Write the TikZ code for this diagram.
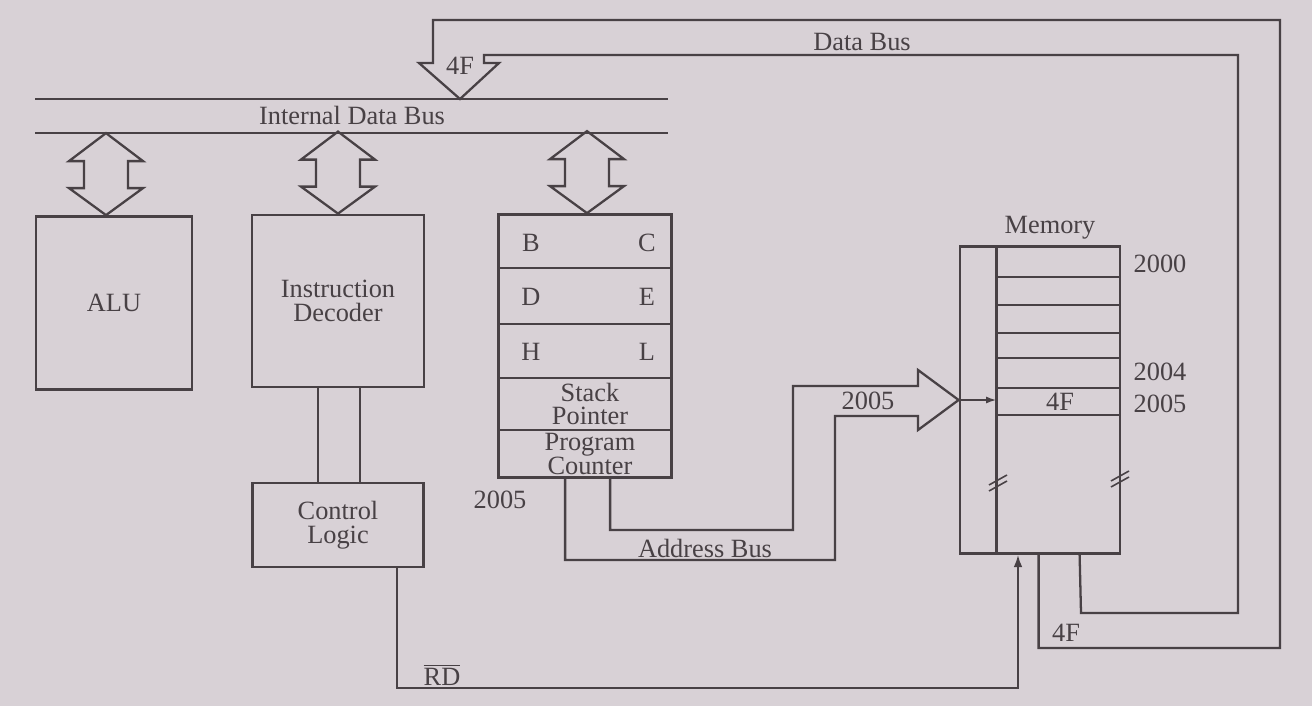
\documentclass[tikz,border=0pt]{standalone}
\usepackage{fontspec}
\setmainfont{Liberation Serif}
\usetikzlibrary{arrows.meta, positioning, calc}
\definecolor{paper}{RGB}{216,209,214}
\definecolor{ink}{RGB}{72,65,69}

\begin{document}
\begin{tikzpicture}[
  x=0.02cm, y=-0.02cm,
  every node/.style={text=ink, align=center, font=\fontsize{15}{13.6}\selectfont},
  block/.style={rectangle, draw=ink, line width=1.6pt, inner sep=0pt},
  bus/.style={draw=ink, line width=1.3pt, line join=miter},
  wire/.style={draw=ink, line width=1.1pt}
]
  \fill[paper] (0,0) rectangle (1312,706);
  \useasboundingbox (0,0) rectangle (1312,706);

  \node[block, minimum width=3.12cm, minimum height=3.46cm] (alu) at (114,303) {ALU};
  \node[block, minimum width=3.44cm, minimum height=3.44cm] (decoder) at (338,301) {Instruction\\Decoder};
  \node[block, minimum width=3.42cm, minimum height=1.68cm] (control) at (338,525) {Control\\Logic};
  \node[block, minimum width=3.46cm, minimum height=5.26cm] (regs) at (585,346) {};
  \node[block, minimum width=3.2cm, minimum height=6.14cm] (memory) at (1040,400) {};

  \draw[bus] (35,99) -- (668,99);
  \draw[bus] (35,133) -- (668,133);
  \node (idb) at (352,115) {Internal Data Bus};

  \foreach \n/\dx in {alu/-8, decoder/0, regs/2}
    \draw[bus] ($(\n.north)+(\dx,0)$) -- ++(37,-27) -- ++(-15,0) -- ++(0,-27) -- ++(15,0)
      -- ++(-37,-28) -- ++(-37,28) -- ++(15,0) -- ++(0,27) -- ++(-15,0) -- cycle;

  \foreach \y in {268,324,378,430}
    \draw[wire, line width=1.3pt] (regs.west |- 0,\y) -- (regs.east |- 0,\y);
  \node (b) at (531,243) {B};
  \node (c) at (647,243) {C};
  \node (d) at (531,297) {D};
  \node (e) at (647,297) {E};
  \node (h) at (531,352) {H};
  \node (l) at (647,352) {L};
  \node (sp) at (590,404) {Stack\\Pointer};
  \node (pc) at (590,454) {Program\\Counter};
  \node (pcval) at (500,500) {2005};

  \draw[wire, line width=1.3pt] (decoder.south -| 318,0) -- (control.north -| 318,0);
  \draw[wire, line width=1.3pt] (decoder.south -| 360,0) -- (control.north -| 360,0);

  \draw[bus] ($(regs.south west)+(68,0)$) |- (835,560) |- (918,416) -- (918,430)
    -- (memory.west) -- (918,370) -- (918,386) -| (793,530) -| ($(regs.south west)+(113,0)$);
  \node (addr) at (705,548) {Address Bus};
  \node (addrval) at (868,401) {2005};

  \draw[wire, line width=1.3pt] ($(memory.north west)+(38,0)$) coordinate (mtop)
    -- ($(memory.south west)+(38,0)$);
  \foreach \y in {277,305,333,358,388,415}
    \draw[wire] (mtop |- 0,\y) -- (memory.east |- 0,\y);
  \draw[wire, -{Latex[length=6pt,width=4pt]}] (memory.west) -- (memory.west -| mtop);
  \foreach \x/\y in {998/483, 1120/479} {
    \draw[wire, line width=0.9pt] (\x-9,\y+2) -- (\x+9,\y-8);
    \draw[wire, line width=0.9pt] (\x-9,\y+8) -- (\x+9,\y-2);
  }
  \node (mem) at (1050,228) {Memory};
  \node (a2000) at (1160,264) {2000};
  \node (a2004) at (1160,372) {2004};
  \node (a2005) at (1160,404) {2005};
  \node (cell) at (1060,402) {4F};

  \draw[wire, -{Latex[length=7pt,width=5pt]}] (control.south -| 397,0) |- (1018,688)
    -- (memory.south -| 1018,0);
  \node (rd) at (442,675) {$\overline{\hbox{RD}}$};

  \draw[bus] ($(memory.south west)+(80,0)$) |- (1280,648) |- (433,20) -- (433,63)
    -- (419,63) -- (460,99) -- (499,63) -- (484,63) |- (1238,55) |- (1081,613)
    -- ($(memory.south west)+(121,0)$);
  \node (dbus) at (862,42) {Data Bus};
  \node (dval) at (460,66) {4F};
  \node (outval) at (1066,633) {4F};
\end{tikzpicture}
\end{document}
